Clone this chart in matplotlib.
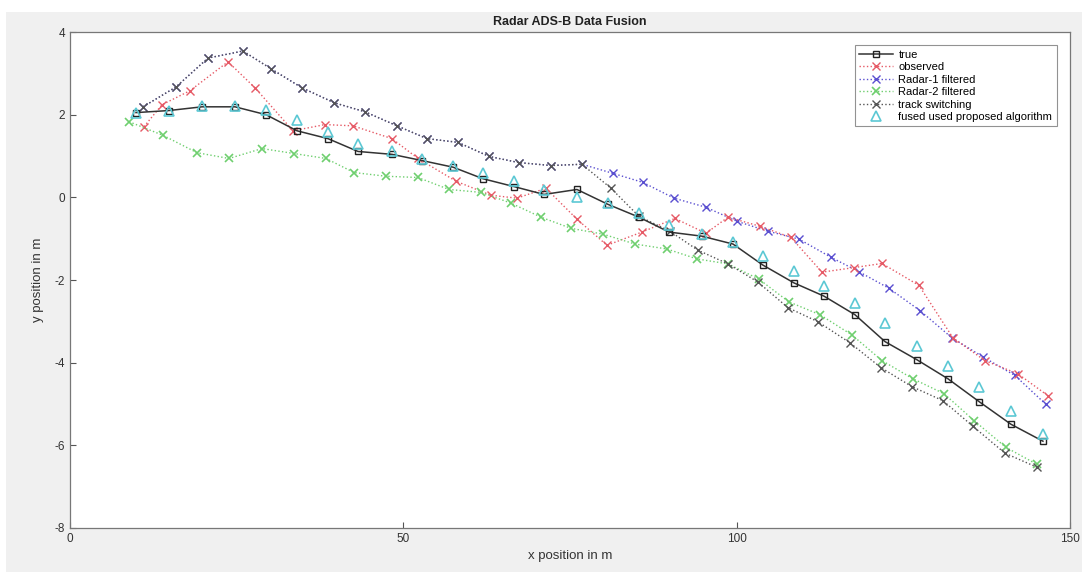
import numpy as np
import matplotlib
matplotlib.use("Agg")
import matplotlib.pyplot as plt

plt.rcParams['font.family'] = ['Liberation Sans', 'DejaVu Sans']
plt.rcParams['axes.unicode_minus'] = False

def px2x(p):
    return [(v - 70) / 6.667 for v in p]

# ---------------- data ----------------
true_px = [136, 169, 202, 235, 266, 297, 328, 358, 392, 422, 453, 483, 514, 544, 577,
           608, 639, 669, 702, 733, 763, 794, 824, 855, 885, 917, 948, 979, 1011, 1043]
true_x = px2x(true_px)
true_y = [2.05, 2.10, 2.19, 2.19, 2.00, 1.61, 1.42, 1.11, 1.04, 0.89, 0.73, 0.45, 0.26, 0.07, 0.19,
          -0.17, -0.48, -0.84, -0.94, -1.13, -1.64, -2.07, -2.39, -2.84, -3.49, -3.93, -4.39, -4.94, -5.49, -5.90]

fused_x = true_x
fused_y = [2.05, 2.10, 2.20, 2.20, 2.12, 1.86, 1.59, 1.30, 1.11, 0.92, 0.77, 0.58, 0.39, 0.17, 0.00,
           -0.14, -0.39, -0.67, -0.89, -1.08, -1.42, -1.78, -2.14, -2.55, -3.04, -3.59, -4.07, -4.60, -5.18, -5.73]

obs_px = [144, 162, 190, 228, 255, 293, 325, 353, 392, 418, 456, 491, 517, 546, 577,
          607, 642, 675, 706, 728, 760, 791, 822, 854, 882, 919, 953, 985, 1018, 1048]
obs_x = px2x(obs_px)
obs_y = [1.71, 2.24, 2.58, 3.28, 2.65, 1.61, 1.76, 1.73, 1.42, 0.94, 0.39, 0.05, -0.02, 0.22, -0.53,
         -1.16, -0.84, -0.51, -0.87, -0.48, -0.70, -0.97, -1.81, -1.70, -1.60, -2.13, -3.40, -3.95, -4.27, -4.80]

track_px = [143, 176, 208, 243, 271, 302, 334, 365, 397, 427, 458, 489, 519, 551, 582,
            611, 639, 670, 698, 728, 758, 788, 818, 850, 881, 912, 943, 973, 1005, 1037]
track_x = px2x(track_px)
track_y = [2.19, 2.67, 3.37, 3.54, 3.11, 2.65, 2.29, 2.07, 1.73, 1.42, 1.33, 0.99, 0.84, 0.77, 0.80,
           0.22, -0.46, -0.82, -1.28, -1.61, -2.05, -2.67, -3.01, -3.52, -4.12, -4.58, -4.92, -5.54, -6.19, -6.53]

r1_px = [143, 176, 208, 243, 271, 302, 334, 365, 397, 427, 458, 489, 519, 551, 582,
         613, 643, 674, 706, 737, 768, 799, 831, 859, 889, 920, 952, 983, 1015, 1046]
r1_x = px2x(r1_px)
r1_y = [2.19, 2.67, 3.37, 3.54, 3.11, 2.65, 2.29, 2.07, 1.73, 1.42, 1.33, 0.99, 0.84, 0.77, 0.80,
        0.58, 0.36, -0.02, -0.24, -0.58, -0.82, -1.01, -1.45, -1.80, -2.20, -2.74, -3.40, -3.86, -4.31, -5.01]

r2_px = [129, 163, 197, 229, 262, 294, 326, 354, 386, 418, 449, 481, 511, 541, 571,
         603, 635, 667, 697, 728, 759, 789, 820, 852, 882, 913, 944, 974, 1006, 1037]
r2_x = px2x(r2_px)
r2_y = [1.83, 1.50, 1.08, 0.94, 1.18, 1.06, 0.94, 0.60, 0.51, 0.48, 0.19, 0.12, -0.14, -0.48, -0.75,
        -0.89, -1.13, -1.25, -1.49, -1.61, -1.98, -2.53, -2.84, -3.33, -3.95, -4.39, -4.75, -5.40, -6.05, -6.46]

x_ticks = [0, 50, 100, 150]
y_ticks = [-8, -6, -4, -2, 0, 2, 4]

# ---------------- figure ----------------
fig = plt.figure(figsize=(10.82, 5.72), dpi=100, facecolor='#f0f0f0')
fig.patches.append(plt.Rectangle((0, 1 - 12 / 572), 1, 12 / 572, transform=fig.transFigure,
                                 facecolor='white', edgecolor='none', zorder=0))
fig.patches.append(plt.Rectangle((0, 0), 6 / 1082, 1, transform=fig.transFigure,
                                 facecolor='white', edgecolor='none', zorder=0))
ax = fig.add_axes([70 / 1082, 1 - 528 / 572, 1000 / 1082, 496 / 572])
ax.set_facecolor('white')

ms = 6
ax.plot(true_x, true_y, '-', color='#333333', lw=1.1, marker='s', ms=5, mfc='none',
        mec='#222222', mew=1.0, label='true', zorder=5)
ax.plot(obs_x, obs_y, ':', color='#e65a66', lw=1.0, marker='x', ms=ms, mew=1.0,
        label='observed', zorder=3)
ax.plot(r1_x, r1_y, ':', color='#5a4fd0', lw=1.0, marker='x', ms=ms, mew=1.0,
        label='Radar-1 filtered', zorder=2)
ax.plot(r2_x, r2_y, ':', color='#6fcf6f', lw=1.0, marker='x', ms=ms, mew=1.2,
        label='Radar-2 filtered', zorder=3)
ax.plot(track_x, track_y, ':', color='#555555', lw=1.0, marker='x', ms=ms, mew=1.0,
        label='track switching', zorder=4)
ax.plot(fused_x, fused_y, 'none', marker='^', ms=7, mfc='none', mec='#5cc8d4', mew=1.2,
        label='fused used proposed algorithm', zorder=6)

ax.set_xlim(0, 150)
ax.set_ylim(-8, 4)
ax.set_xticks(x_ticks)
ax.set_yticks(y_ticks)
ax.tick_params(direction='in', length=4, width=0.8, colors='#555555', labelsize=8.5,
               labelcolor='#333333')
for s in ax.spines.values():
    s.set_color('#777777')
    s.set_linewidth(0.9)

ax.set_title('Radar ADS-B Data Fusion', fontsize=9, fontweight='bold', color='#222222', pad=5)
ax.set_xlabel('x position in m', fontsize=9.5, color='#333333', labelpad=4)
ax.set_ylabel('y position in m', fontsize=9.5, color='#333333', labelpad=8)

leg = ax.legend(loc='upper right', fontsize=8, frameon=True, fancybox=False,
                edgecolor='#777777', borderaxespad=1.2, handlelength=3.0, labelspacing=0.22,
                borderpad=0.4, handletextpad=0.5)
leg.get_frame().set_linewidth(0.8)

fig.savefig('out.png', dpi=100, facecolor=fig.get_facecolor())
